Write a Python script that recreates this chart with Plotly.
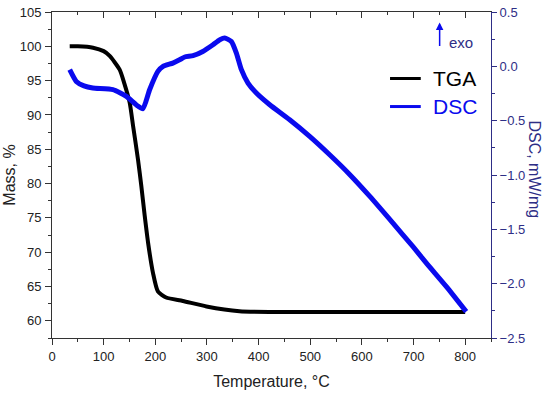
import plotly.graph_objects as go

# TGA data (Temperature °C, Mass %)
tga_temp = [34.3, 50, 79.4, 100, 111.7, 131, 140, 150.4, 157, 166.5, 173, 179.5, 186, 195.5, 205, 221, 253.5, 299, 363, 428, 500, 600, 700, 800]
tga_mass = [100.0, 100.0, 99.8, 99.3, 98.6, 96.6, 94.6, 91.8, 88.4, 83.5, 79.6, 75.3, 71.4, 67.0, 64.3, 63.4, 62.9, 62.1, 61.4, 61.3, 61.3, 61.3, 61.3, 61.3]

# DSC data (Temperature °C, mW/mg)
dsc_temp = [34.3, 47, 62, 79, 118, 144, 163, 176, 189, 205, 215, 234, 247, 257, 273, 292, 311.7, 325, 334.4, 347.3, 357, 366.7, 379.5, 395.7, 421.6, 460.2, 498.9, 537.6, 576.3, 615, 660.2, 699, 724.9, 763.6, 802]
dsc_val = [-0.031, -0.139, -0.18, -0.20, -0.215, -0.277, -0.354, -0.39, -0.215, -0.047, 0.0, 0.03, 0.06, 0.086, 0.098, 0.137, 0.199, 0.245, 0.261, 0.229, 0.122, -0.031, -0.154, -0.246, -0.354, -0.492, -0.645, -0.814, -0.995, -1.195, -1.443, -1.66, -1.811, -2.027, -2.257]

legend_names = ["TGA", "DSC"]

navy = "#2e2e86"
blue = "#0a0aee"
axis_gray = "#333333"
font_family = "Liberation Sans, Arial, sans-serif"

fig = go.Figure()
fig.add_trace(go.Scatter(x=tga_temp, y=tga_mass, mode="lines", name=legend_names[0], showlegend=False,
                         line=dict(color="black", width=4, shape="spline", smoothing=0.6)))
fig.add_trace(go.Scatter(x=dsc_temp, y=dsc_val, mode="lines", name=legend_names[1], showlegend=False,
                         yaxis="y2", line=dict(color=blue, width=5, shape="spline", smoothing=0.5)))
fig.add_trace(go.Scatter(x=[], y=[], xaxis="x2", showlegend=False, hoverinfo="skip"))

# legend drawn by hand (line sample + text), in plot-area (paper) coordinates
leg_y = [0.796, 0.710]
leg_col = ["black", blue]
shapes = []
annotations = []
for name, yy, col in zip(legend_names, leg_y, leg_col):
    shapes.append(dict(type="line", xref="paper", yref="paper", x0=0.770, x1=0.840, y0=yy, y1=yy,
                       line=dict(color=col, width=3)))
    annotations.append(dict(text=name, xref="paper", yref="paper", x=0.864, y=yy, xanchor="left",
                            yanchor="middle", showarrow=False, font=dict(size=21, color=col)))

annotations += [
    dict(text="DSC, mW/mg", xref="paper", yref="paper", x=1.122, y=0.517,
         textangle=90, showarrow=False, font=dict(size=16, color=navy)),
    dict(text="", xref="paper", yref="paper", x=0.883, y=0.968, ax=0, ay=25,
         showarrow=True, arrowhead=2, arrowsize=1, arrowwidth=1.5, arrowcolor=blue),
    dict(text="exo", xref="paper", yref="paper", x=0.899, y=0.907, xanchor="left", yanchor="middle",
         showarrow=False, font=dict(size=15, color=navy)),
]

fig.update_layout(
    width=550, height=397,
    margin=dict(l=52, r=59, t=12, b=59, autoexpand=False),
    paper_bgcolor="white", plot_bgcolor="white",
    font=dict(family=font_family, size=13, color="#222222"),
    showlegend=False,
    xaxis=dict(range=[0, 850], automargin=False, showgrid=False, zeroline=False,
               showline=True, linecolor=axis_gray, linewidth=1, ticklabeloverflow="allow",
               ticks="outside", ticklen=6, tickcolor=axis_gray,
               minor=dict(dtick=50, ticks="outside", ticklen=3, tickcolor=axis_gray),
               tickvals=[0, 100, 200, 300, 400, 500, 600, 700, 800],
               title=dict(text="Temperature, °C", font=dict(size=16), standoff=13)),
    xaxis2=dict(range=[0, 850], overlaying="x", side="top", automargin=False, showgrid=False, zeroline=False,
                showline=True, linecolor=axis_gray, linewidth=1, showticklabels=False,
                ticks="inside", ticklen=6, tickcolor=axis_gray, dtick=100, tick0=0,
                minor=dict(dtick=50, ticks="inside", ticklen=3, tickcolor=axis_gray)),
    yaxis=dict(range=[57.5, 105], dtick=5, tick0=60, automargin=False, showgrid=False, zeroline=False,
               showline=True, linecolor=axis_gray, linewidth=1, ticklabeloverflow="allow",
               ticks="outside", ticklen=6, tickcolor=axis_gray, ticklabelstandoff=1,
               minor=dict(dtick=2.5, ticks="outside", ticklen=3, tickcolor=axis_gray),
               title=dict(text="Mass, %", font=dict(size=16), standoff=0)),
    yaxis2=dict(range=[-2.5, 0.5], dtick=0.5, tick0=0, overlaying="y", side="right", automargin=False,
                showgrid=False, zeroline=False, showline=True, linecolor=navy, linewidth=1,
                ticklabeloverflow="allow",
                ticks="outside", ticklen=5, tickcolor=navy, tickformat=".1f",
                tickfont=dict(color=navy, size=13),
                minor=dict(dtick=0.25, ticks="outside", ticklen=3, tickcolor=navy)),
    shapes=shapes,
    annotations=annotations,
)

fig.write_html("out.html", config={"displayModeBar": False},
               post_script="document.body.style.margin='0px';")
